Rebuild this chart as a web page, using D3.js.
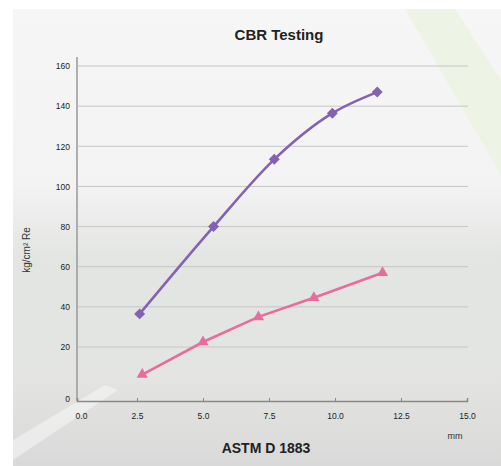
<!DOCTYPE html>
<html>
<head>
<meta charset="utf-8">
<script src="https://cdn.jsdelivr.net/npm/d3@7"></script>
<style>
  body { margin: 0; background: #fff; }
  svg { display: block; font-family: "Liberation Sans", Arial, sans-serif; }
</style>
</head>
<body>
<div id="chart"></div>
<script>
// CBR test readings, penetration (mm) vs load
var purpleX = [2.6, 5.4, 7.7, 9.9, 11.6],
    purpleY = [36.5, 80, 113.5, 136.5, 147];
var pinkX = [2.7, 5.0, 7.1, 9.2, 11.8],
    pinkY = [9.8, 22.5, 35, 44.5, 57];
var xTicks = [0, 2.5, 5, 7.5, 10, 12.5, 15],
    yTicks = [0, 20, 40, 60, 80, 100, 120, 140, 160];

var width = 501, height = 466;

var svg = d3.select("#chart").append("svg")
    .attr("width", width)
    .attr("height", height);

// background, roughly like the photo behind the plot
var defs = svg.append("defs");
var grad = defs.append("linearGradient")
    .attr("id", "bg").attr("x1", 0).attr("y1", 0).attr("x2", 0).attr("y2", 1);
grad.append("stop").attr("offset", "0%").attr("stop-color", "#f6f6f6");
grad.append("stop").attr("offset", "38%").attr("stop-color", "#f3f3f3");
grad.append("stop").attr("offset", "55%").attr("stop-color", "#e3e5e2");
grad.append("stop").attr("offset", "80%").attr("stop-color", "#e4e5e2");
grad.append("stop").attr("offset", "100%").attr("stop-color", "#d9d9d9");

svg.append("rect")
    .attr("x", 13).attr("y", 9)
    .attr("width", width - 13).attr("height", height - 9)
    .attr("fill", "url(#bg)");

// pale green band top right
svg.append("path")
    .attr("d", "M405,9 L455,9 L501,80 L501,175 Z")
    .attr("fill", "#eaf2de")
    .attr("opacity", 0.7);
// lighter streak lower left
svg.append("path")
    .attr("d", "M13,440 L105,385 L118,390 L13,460 Z")
    .attr("fill", "#f5f5f5")
    .attr("opacity", 0.6);

var x = d3.scaleLinear().domain([0, 2.5, 15]).range([77, 137, 467]),
    y = d3.scaleLinear().domain([0, 20, 160]).range([401, 347, 66]);

// gridlines
svg.append("g")
    .selectAll("line")
    .data(yTicks.slice(1))
    .enter().append("line")
    .attr("x1", 78).attr("x2", 468)
    .attr("y1", function(d) { return y(d); })
    .attr("y2", function(d) { return y(d); })
    .attr("stroke", "#c6c6c6")
    .attr("stroke-width", 1);

// y axis
var yAxis = d3.axisLeft(y).tickValues(yTicks).tickSize(0).tickPadding(7)
    .tickFormat(d3.format("d"));
var gy = svg.append("g")
    .attr("transform", "translate(77,0)")
    .call(yAxis);
gy.select(".domain").remove();
gy.selectAll("text").attr("font-size", 8.5).attr("fill", "#222")
    .attr("font-family", "\"Liberation Sans\", Arial, sans-serif");
gy.selectAll(".tick").filter(function(d) { return d === 0; })
    .select("text").attr("dy", "0.1em");
svg.append("line")
    .attr("x1", 77).attr("x2", 77)
    .attr("y1", 57).attr("y2", 401)
    .attr("stroke", "#999").attr("stroke-width", 1.5);

// x axis
var xAxis = d3.axisBottom(x).tickValues(xTicks).tickSize(-3).tickPadding(12)
    .tickFormat(d3.format(".1f"));
var gx = svg.append("g")
    .attr("transform", "translate(0,401)")
    .call(xAxis);
gx.select(".domain").attr("stroke", "#888").attr("stroke-width", 1.5);
gx.selectAll(".tick line").attr("stroke", "#888");
gx.selectAll(".tick").filter(function(d) { return d === 0; }).select("line").remove();
gx.selectAll("text").attr("font-size", 8.5).attr("fill", "#222")
    .attr("font-family", "\"Liberation Sans\", Arial, sans-serif");
gx.selectAll(".tick").filter(function(d) { return d === 0; })
    .select("text").attr("dx", 4);

// series
var series = [
    { xs: purpleX, ys: purpleY, color: "#8462b2", symbol: d3.symbolSquare, size: 60, rot: 45, curve: d3.curveMonotoneX },
    { xs: pinkX, ys: pinkY, color: "#e96c9f", symbol: d3.symbolTriangle, size: 55, rot: 0, curve: d3.curveLinear }
];

series.forEach(function(s) {
    var pts = s.xs.map(function(v, i) { return [v, s.ys[i]]; });
    var line = d3.line()
        .curve(s.curve)
        .x(function(d) { return x(d[0]); })
        .y(function(d) { return y(d[1]); });
    svg.append("path")
        .datum(pts)
        .attr("fill", "none")
        .attr("stroke", s.color)
        .attr("stroke-width", 2.6)
        .attr("d", line);
    svg.append("g").selectAll("path")
        .data(pts)
        .enter().append("path")
        .attr("transform", function(d) {
            return "translate(" + x(d[0]) + "," + y(d[1]) + ") rotate(" + s.rot + ")";
        })
        .attr("d", d3.symbol().type(s.symbol).size(s.size))
        .attr("fill", s.color);
});

// titles
svg.append("text")
    .attr("x", 279).attr("y", 40)
    .attr("text-anchor", "middle")
    .attr("font-size", 15).attr("font-weight", "bold")
    .attr("fill", "#222")
    .text("CBR Testing");

svg.append("text")
    .attr("x", 266).attr("y", 453)
    .attr("text-anchor", "middle")
    .attr("font-size", 14).attr("font-weight", "bold")
    .attr("fill", "#222")
    .text("ASTM D 1883");

svg.append("text")
    .attr("x", 455).attr("y", 439)
    .attr("text-anchor", "middle")
    .attr("font-size", 9)
    .attr("fill", "#333")
    .text("mm");

svg.append("text")
    .attr("transform", "translate(30,250) rotate(-90)")
    .attr("text-anchor", "middle")
    .attr("font-size", 10)
    .attr("fill", "#333")
    .text("kg/cm² Re");
</script>
</body>
</html>
